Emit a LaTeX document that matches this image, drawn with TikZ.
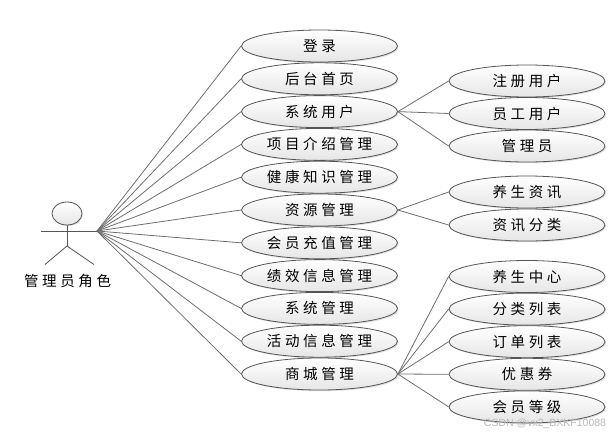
\documentclass[tikz,border=0pt]{standalone}
\usepackage{fontspec}
\setmainfont[LetterSpace=25]{Noto Sans CJK SC}
\newfontfamily\markfont{Liberation Sans}
\usetikzlibrary{positioning,shapes.geometric,shadows}
\definecolor{edgegray}{HTML}{6E6E6E}
\definecolor{rimgray}{HTML}{555555}
\definecolor{lowfill}{HTML}{E6E6E6}

\begin{document}
\begin{tikzpicture}[
  x=1pt, y=-1pt,
  node distance=0pt,
  usecase/.style={ellipse, draw=rimgray, top color=white, bottom color=lowfill, line width=0.8pt,
    minimum width=156pt, minimum height=32pt, inner sep=0pt, font=\fontsize{14.5}{16}\selectfont,
    drop shadow={shadow xshift=1.2pt, shadow yshift=-1.2pt, fill=black!25}},
  limb/.style={draw=rimgray, line width=0.8pt},
  link/.style={draw=edgegray, line width=0.8pt}
]
\useasboundingbox (0,0) rectangle (616,434);

% left column
\node[usecase] (login) at (319.5,46) {登录};
\node[usecase, below=of login] (home) {后台首页};
\node[usecase, below=of home] (sysuser) {系统用户};
\node[usecase, below=of sysuser] (project) {项目介绍管理};
\node[usecase, below=of project] (health) {健康知识管理};
\node[usecase, below=of health] (resource) {资源管理};
\node[usecase, below=of resource] (recharge) {会员充值管理};
\node[usecase, below=of recharge] (merit) {绩效信息管理};
\node[usecase, below=of merit] (system) {系统管理};
\node[usecase, below=of system] (activity) {活动信息管理};
\node[usecase, below=of activity] (mall) {商城管理};

% right column
\node[usecase] (reguser) at (527,81) {注册用户};
\node[usecase, below=-0.3pt of reguser] (staff) {员工用户};
\node[usecase, below=-0.3pt of staff] (admin) {管理员};
\node[usecase] (news) at (527,192) {养生资讯};
\node[usecase, below=0.2pt of news] (newscat) {资讯分类};
\node[usecase] (center) at (527,276.5) {养生中心};
\node[usecase, below=-0.2pt of center] (catlist) {分类列表};
\node[usecase, below=-0.2pt of catlist] (orders) {订单列表};
\node[usecase, below=-0.2pt of orders] (coupon) {优惠券};
\node[usecase, below=-0.2pt of coupon] (level) {会员等级};

% actor
\node[ellipse, draw=rimgray, top color=white, bottom color=lowfill, line width=0.8pt, minimum width=30pt,
  minimum height=23pt, inner sep=0pt, drop shadow={shadow xshift=1pt, shadow yshift=-1pt, fill=black!25}] (head) at (67,213.5) {};
\coordinate (armL) at (41,231);
\coordinate (armR) at (97,231);
\coordinate (hip) at (67,246);
\coordinate (footL) at (45,264.5);
\coordinate (footR) at (94,264.5);
\path[limb] (armL) -- (armR);
\path[limb] (head) -- (hip);
\path[limb] (footL) -- (hip) -- (footR);
\node[font=\fontsize{14.5}{16}\selectfont] (actor) at (67.5,281) {管理员角色};

\foreach \n in {login,home,sysuser,project,health,resource,recharge,merit,system,activity,mall}
  \path[link] (armR) -- (\n.west);
\foreach \n in {reguser,staff,admin}
  \path[link] (sysuser.east) -- (\n.west);
\foreach \n in {news,newscat}
  \path[link] (resource.east) -- (\n.west);
\foreach \n in {center,catlist,orders,coupon,level}
  \path[link] (mall.east) -- (\n.west);

\node[font=\markfont\fontsize{10.5}{12}\selectfont, text=black!28, inner sep=0pt] (mark) at (545,423.5) {CSDN @vx2\_BXKF10088};
\end{tikzpicture}
\end{document}
